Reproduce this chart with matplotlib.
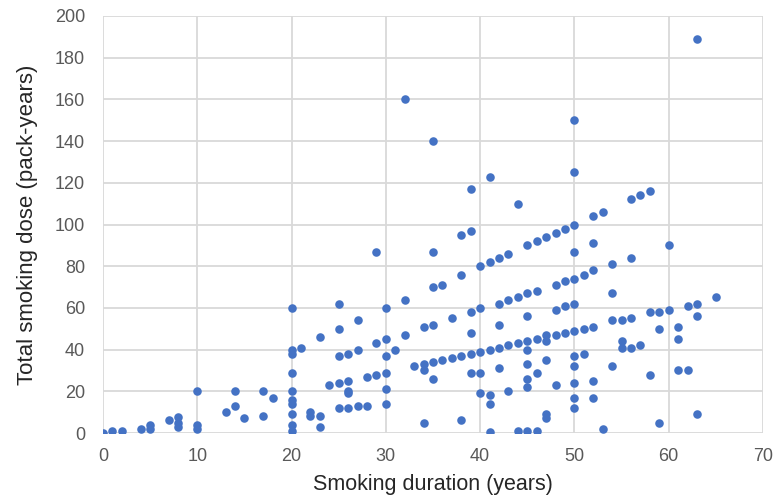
import matplotlib
matplotlib.use("Agg")
import matplotlib.pyplot as plt

# Smoking duration (years)
duration = [0, 1, 2, 4, 5, 5, 7, 8, 8, 8, 10, 10, 10, 13, 14, 14, 15, 17, 17, 18,
            20, 20, 20, 20, 20, 20, 20, 20, 20, 20,
            21, 22, 22, 23, 23, 23, 24, 25, 25, 25, 25, 25, 26, 26, 26, 26, 26,
            27, 27, 27, 28, 28, 29, 29, 29, 30, 30, 30, 30, 30, 30, 31,
            32, 32, 32, 33, 34, 34, 34, 34, 35, 35, 35, 35, 35, 35, 36, 36, 37, 37,
            38, 38, 38, 38, 39, 39, 39, 39, 39, 39, 40, 40, 40, 40, 40,
            41, 41, 41, 41, 41, 41, 42, 42, 42, 42, 42, 43, 43, 43, 43,
            44, 44, 44, 44, 45, 45, 45, 45, 45, 45, 45, 45, 45,
            46, 46, 46, 46, 46, 47, 47, 47, 47, 47, 47, 48, 48, 48, 48, 48,
            49, 49, 49, 49, 50, 50, 50, 50, 50, 50, 50, 50, 50, 50, 50, 50,
            51, 51, 51, 52, 52, 52, 52, 52, 52, 53, 53, 54, 54, 54, 54,
            55, 55, 55, 56, 56, 56, 56, 57, 57, 58, 58, 58, 59, 59, 59,
            60, 60, 61, 61, 61, 62, 62, 63, 63, 63, 63, 65]

# Total smoking dose (pack-years)
dose = [0, 1, 1, 2, 4, 2, 6, 7.5, 5, 3, 20, 4, 2, 10, 20, 13, 7, 20, 8, 17,
        60, 40, 38, 29, 20, 16, 14, 9, 4, 1,
        41, 10, 8, 46, 8, 3, 23, 62, 50, 37, 24, 12, 38, 25, 20, 19, 12,
        54, 40, 13, 27, 13, 87, 43, 28, 60, 45, 37, 29, 21, 14, 40,
        160, 64, 47, 32, 51, 33, 30, 5, 140, 87, 70, 52, 34, 26, 71, 35, 55, 36,
        95, 76, 37, 6, 117, 97, 58, 48, 38, 29, 80, 60, 39, 29, 19,
        123, 82, 40, 18, 14, 0.5, 84, 62, 52, 41, 31, 86, 64, 42, 20,
        110, 65, 43, 1, 90, 67, 56, 44, 40, 33, 26, 22, 1,
        92, 68, 45, 29, 1, 94, 47, 44, 35, 9, 7, 96, 71, 59, 47, 23,
        98, 73, 61, 48, 150, 125, 100, 87, 74, 62, 49, 37, 32, 24, 17, 12,
        76, 50, 38, 104, 91, 78, 51, 25, 17, 106, 2, 81, 67, 54, 32,
        54, 44, 41, 112, 84, 55, 41, 114, 42, 116, 58, 28, 58, 50, 5,
        90, 59, 51, 45, 30, 61, 30, 189, 62, 56, 9, 65]

x_ticks = [0, 10, 20, 30, 40, 50, 60, 70]
y_ticks = [0, 20, 40, 60, 80, 100, 120, 140, 160, 180, 200]

plt.rcParams['font.family'] = ['Liberation Sans', 'DejaVu Sans']

fig = plt.figure(figsize=(7.74, 5.04), dpi=100)
ax = fig.add_axes([103 / 774, 1 - 433 / 504, 660 / 774, 417 / 504])

ax.scatter(duration, dose, s=38, color='#4472C4', zorder=3, linewidths=0)

ax.set_xlim(0, 70)
ax.set_ylim(0, 200)
ax.set_xticks(x_ticks)
ax.set_yticks(y_ticks)
ax.grid(True, color='#D9D9D9', linewidth=1.3, zorder=0)
ax.set_axisbelow(True)
for s in ax.spines.values():
    s.set_visible(False)
ax.tick_params(length=0, labelsize=13, colors='#595959')
ax.tick_params(axis='x', pad=11)
ax.tick_params(axis='y', pad=13)

ax.set_xlabel('Smoking duration (years)', fontsize=15.5, color='#262626', labelpad=6)
ax.set_ylabel('Total smoking dose (pack-years)', fontsize=16, color='#262626', labelpad=12)

fig.savefig('out.png', dpi=100)
